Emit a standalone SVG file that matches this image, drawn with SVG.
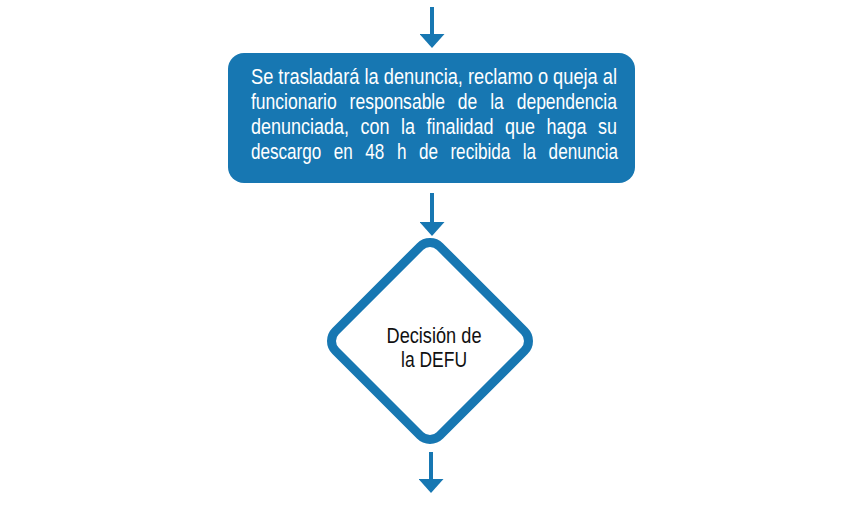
<svg xmlns="http://www.w3.org/2000/svg" width="853" height="508" viewBox="0 0 853 508">
<style>
.conn{stroke:#1777b2;stroke-width:4;fill:none}
.box{fill:#1777b2}
.dia{fill:#ffffff;stroke:#1777b2;stroke-width:9}
.bt{font-family:"Liberation Sans Narrow","Liberation Sans",Arial,sans-serif;font-size:22px;fill:#ffffff}
.dt{font-family:"Liberation Sans Narrow","Liberation Sans",Arial,sans-serif;font-size:22px;fill:#111111;text-anchor:middle}
</style>
<defs>
<marker id="arr" markerUnits="userSpaceOnUse" viewBox="0 0 14 25" markerWidth="14" markerHeight="25" refX="0" refY="12.5" orient="auto">
<path d="M0,0 L14,12.5 L0,25 Z" fill="#1777b2"/>
</marker>
</defs>
<rect width="853" height="508" fill="#ffffff"/>
<g id="connectors">
<line class="conn" x1="432" y1="7" x2="432" y2="34" marker-end="url(#arr)"/>
<line class="conn" x1="432" y1="193" x2="432" y2="222" marker-end="url(#arr)"/>
<line class="conn" x1="431" y1="452" x2="431" y2="479" marker-end="url(#arr)"/>
</g>
<g id="node-traslado">
<rect class="box" x="228" y="53" width="407" height="130" rx="16"/>
<text class="bt" x="251" y="84" textLength="366" lengthAdjust="spacingAndGlyphs">Se trasladará la denuncia, reclamo o queja al</text>
<text class="bt" x="251" y="109" textLength="366" lengthAdjust="spacingAndGlyphs" word-spacing="10">funcionario responsable de la dependencia</text>
<text class="bt" x="251" y="134" textLength="366" lengthAdjust="spacingAndGlyphs" word-spacing="8">denunciada, con la finalidad que haga su</text>
<text class="bt" x="251" y="159" textLength="367" lengthAdjust="spacingAndGlyphs" word-spacing="10">descargo en 48 h de recibida la denuncia</text>
</g>
<g id="node-decision">
<rect class="dia" x="356.25" y="267.25" width="147.5" height="147.5" rx="14" transform="rotate(45 430 341)"/>
<text class="dt" x="434" y="343" textLength="95" lengthAdjust="spacingAndGlyphs">Decisión de</text>
<text class="dt" x="434" y="367" textLength="66" lengthAdjust="spacingAndGlyphs">la DEFU</text>
</g>
</svg>
